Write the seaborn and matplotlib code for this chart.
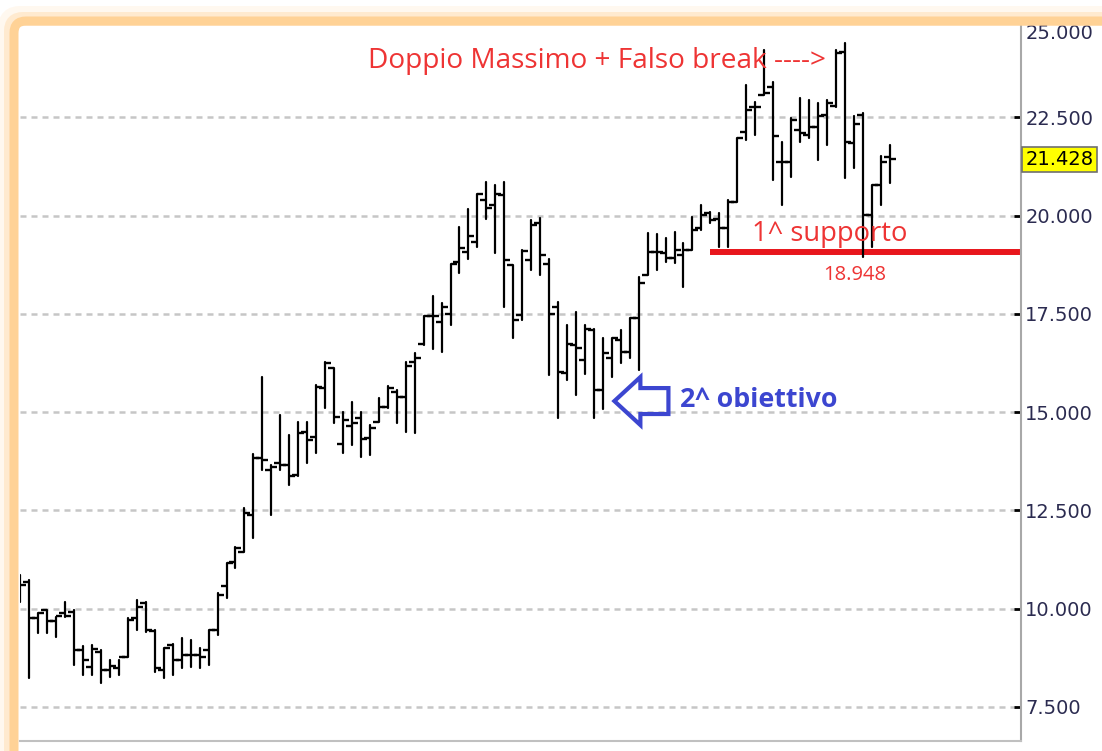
import numpy as np
import pandas as pd
import matplotlib
matplotlib.use("Agg")
import matplotlib.pyplot as plt
import seaborn as sns
from matplotlib.markers import TICKLEFT, TICKRIGHT
from matplotlib.patches import FancyArrow, FancyBboxPatch
from matplotlib.transforms import IdentityTransform

# ---------------- data (weekly OHLC) ----------------
opens = [10.73, 10.68, 9.76, 9.96, 9.68, 9.89, 9.91, 8.95, 8.51, 8.89,
         8.44, 8.49, 8.77, 9.76, 10.14, 9.43, 8.44, 9.07, 8.69, 8.82,
         8.82, 8.95, 9.45, 10.57, 11.18, 11.44, 12.38, 13.83, 13.52, 13.70,
         13.65, 13.40, 14.49, 14.36, 15.61, 16.12, 14.18, 14.64, 14.85, 14.34,
         14.74, 15.13, 15.51, 15.38, 16.27, 16.73, 17.44, 17.29, 17.49, 18.81,
         19.07, 19.32, 20.39, 20.26, 20.52, 18.74, 17.47, 18.86, 19.80, 18.76,
         17.67, 15.99, 16.70, 16.32, 17.08, 15.56, 16.37, 16.83, 16.52, 17.39,
         18.48, 19.07, 19.04, 18.91, 18.99, 19.12, 19.68, 20.06, 19.91, 19.68,
         20.34, 22.12, 22.75, 23.06, 23.26, 21.36, 21.36, 22.17, 22.04, 22.25,
         22.55, 22.78, 24.15, 21.84, 22.55, 20.01, 20.77, 21.48]
highs = [10.85, 10.73, 9.89, 9.96, 9.78, 10.17, 9.96, 9.05, 9.07, 8.95,
         8.69, 8.69, 9.76, 10.22, 10.17, 9.45, 9.00, 9.10, 9.25, 9.20,
         9.00, 9.45, 10.40, 11.16, 11.56, 12.56, 13.93, 15.89, 13.65, 14.92,
         14.41, 14.74, 14.74, 15.68, 16.27, 16.12, 15.00, 15.25, 15.00, 14.67,
         15.35, 15.66, 15.56, 16.27, 16.50, 17.44, 17.95, 17.77, 18.76, 19.70,
         20.16, 20.54, 20.85, 20.77, 20.85, 18.74, 19.12, 19.88, 19.93, 18.89,
         17.80, 17.21, 17.54, 17.21, 17.11, 16.88, 16.88, 17.08, 17.39, 18.43,
         19.55, 19.52, 19.42, 19.58, 19.30, 19.96, 20.26, 20.08, 20.06, 20.39,
         21.97, 23.31, 22.88, 24.20, 23.39, 21.86, 22.47, 22.98, 22.93, 22.86,
         22.93, 24.20, 24.38, 22.53, 22.60, 20.77, 21.51, 21.79]
lows = [10.17, 8.23, 9.38, 9.38, 9.28, 9.78, 8.56, 8.31, 8.31, 8.11,
        8.26, 8.31, 8.77, 9.45, 9.40, 8.39, 8.23, 8.31, 8.49, 8.51,
        8.49, 8.56, 9.33, 10.27, 11.03, 11.44, 11.79, 13.52, 12.38, 13.52,
        13.14, 13.37, 13.70, 13.96, 15.10, 14.72, 13.96, 14.16, 13.85, 13.90,
        14.74, 15.10, 14.72, 14.49, 14.46, 16.70, 16.60, 16.52, 17.21, 18.53,
        18.89, 19.19, 19.91, 19.04, 17.67, 16.88, 17.34, 18.61, 18.48, 15.94,
        14.85, 15.81, 15.43, 15.96, 14.85, 15.07, 15.89, 16.24, 16.37, 16.07,
        18.48, 18.61, 18.81, 18.79, 18.18, 19.12, 19.63, 19.80, 19.19, 19.19,
        20.34, 21.92, 22.04, 23.06, 20.90, 20.26, 20.97, 21.86, 21.97, 21.41,
        21.79, 22.75, 20.95, 21.20, 18.948, 19.19, 20.26, 20.82]
closes = [10.60, 9.76, 9.89, 9.68, 9.81, 9.81, 8.95, 8.69, 8.97, 8.44,
          8.54, 8.77, 9.71, 10.04, 9.45, 8.49, 9.00, 8.69, 8.82, 8.82,
          8.77, 9.45, 10.34, 11.16, 11.54, 12.43, 13.83, 13.78, 13.60, 13.65,
          13.37, 14.46, 14.29, 15.63, 16.24, 14.87, 14.79, 14.72, 14.31, 14.59,
          15.13, 15.61, 15.38, 16.17, 16.37, 17.44, 17.44, 17.67, 18.76, 19.17,
          19.47, 20.54, 20.19, 20.54, 18.86, 17.34, 19.09, 19.75, 18.99, 17.49,
          16.02, 16.73, 16.63, 17.11, 15.56, 16.50, 16.88, 16.52, 17.39, 18.28,
          19.07, 19.07, 18.91, 19.12, 19.12, 19.63, 20.01, 19.88, 19.68, 20.34,
          21.97, 22.68, 22.75, 23.11, 22.02, 21.36, 22.42, 22.09, 22.25, 22.53,
          22.86, 24.13, 21.86, 22.32, 20.01, 20.77, 21.36, 21.428]

y_ticks = [7.5, 10.0, 12.5, 15.0, 17.5, 20.0, 22.5, 25.0]
last_price = 21.428
support_level = 19.07
support_low = 18.948

title_txt = "Doppio Massimo + Falso break ---->"
support_txt = "1^ supporto"
support_val_txt = "18.948"
target_txt = "2^ obiettivo"

# ---------------- figure ----------------
sns.set_style("white")
plt.rcParams["font.family"] = ["DejaVu Sans"]

W, H = 1102, 751
fig = plt.figure(figsize=(W / 100, H / 100), dpi=100)
fig.patch.set_facecolor("white")
ax = fig.add_axes([20 / W, 10 / H, 1001 / W, 722 / H])

n = len(opens)
idx = np.arange(n)
hl = pd.DataFrame({"bar": np.repeat(idx, 2),
                   "price": np.column_stack([lows, highs]).ravel()})

RED = "#ee3434"
BLUE = "#3c46d0"

# support line (under the bars)
ax.hlines(support_level, 77.0, 112, color="#e8161c", lw=4.3, zorder=1.5)

sns.lineplot(data=hl, x="bar", y="price", units="bar", estimator=None,
             sort=False, color="black", lw=1.6, ax=ax, legend=False, zorder=3)
sns.scatterplot(x=idx, y=opens, marker=TICKLEFT, s=16, color="black",
                linewidth=1.7, ax=ax, legend=False, zorder=3)
sns.scatterplot(x=idx, y=closes, marker=TICKRIGHT, s=16, color="black",
                linewidth=1.7, ax=ax, legend=False, zorder=3)

ax.set_xlim(-0.05, 111.67)
ax.set_ylim(6.631, 25.0)
ax.set_xlabel("")
ax.set_ylabel("")
ax.set_xticks([])

ax.set_axisbelow(True)
ax.yaxis.grid(True, color="#c6c6c6", lw=1.8, linestyle=(0, (2.4, 2.0)))
ax.yaxis.tick_right()
ax.set_yticks(y_ticks)
ax.set_yticklabels([f"{v:.3f}" if v < 25 else "" for v in y_ticks])
ax.tick_params(axis="y", direction="in", length=5, width=2, color="black",
               labelcolor="#2b2b50", labelsize=14, pad=3)
for s in ["top", "left"]:
    ax.spines[s].set_visible(False)
ax.spines["right"].set_color("#a8a8a8")
ax.spines["right"].set_linewidth(1.5)
ax.spines["bottom"].set_color("#c0c0c0")
ax.spines["bottom"].set_linewidth(1.5)

ytr = ax.get_yaxis_transform()
ax.annotate("25.000", xy=(1, 25.0), xycoords=ytr, xytext=(3, -10.5),
            textcoords="offset points", ha="left", va="center",
            fontsize=14, color="#2b2b50", annotation_clip=False)
ax.annotate(f"{last_price:.3f}", xy=(1, last_price), xycoords=ytr,
            xytext=(3, 0), textcoords="offset points", ha="left", va="center",
            fontsize=14, color="black", annotation_clip=False,
            bbox=dict(boxstyle="square,pad=0.17", fc="#ffff00", ec="#707070", lw=1.2))

# annotations
ax.text(38.84, 23.75, title_txt, color=RED, fontsize=20.2, family="Open Sans",
        ha="left", va="baseline", zorder=5)
ax.text(81.7, 19.35, support_txt, color=RED, fontsize=19.7, family="Open Sans",
        ha="left", va="baseline", zorder=5)
ax.text(89.6, 18.355, support_val_txt, color=RED, fontsize=14.5, family="Open Sans",
        ha="left", va="baseline", zorder=5)
ax.text(73.66, 15.125, target_txt, color=BLUE, fontsize=19.3, family="Open Sans",
        weight="bold", ha="left", va="baseline", zorder=5)
ax.add_patch(FancyArrow(72.32, 15.28, -6.03, 0, width=0.66, head_width=1.22,
                        head_length=2.90, length_includes_head=True, fill=False,
                        ec=BLUE, lw=3, joinstyle="miter", zorder=5))

# orange window frame with soft glow (pixel coordinates)
ORANGE = "#ffd296"
for cx, cy, lw, a in [(8, 16, 20, 0.15), (11, 19, 14, 0.35), (14, 21, 9, 1.0)]:
    fig.patches.append(FancyBboxPatch((cx, -60), 1300, (H - cy) + 60,
                                      boxstyle="round,pad=0,rounding_size=12",
                                      transform=IdentityTransform(), fill=False,
                                      ec=ORANGE, lw=lw * 0.72, alpha=a, zorder=10))

fig.savefig("out.png", dpi=100)
